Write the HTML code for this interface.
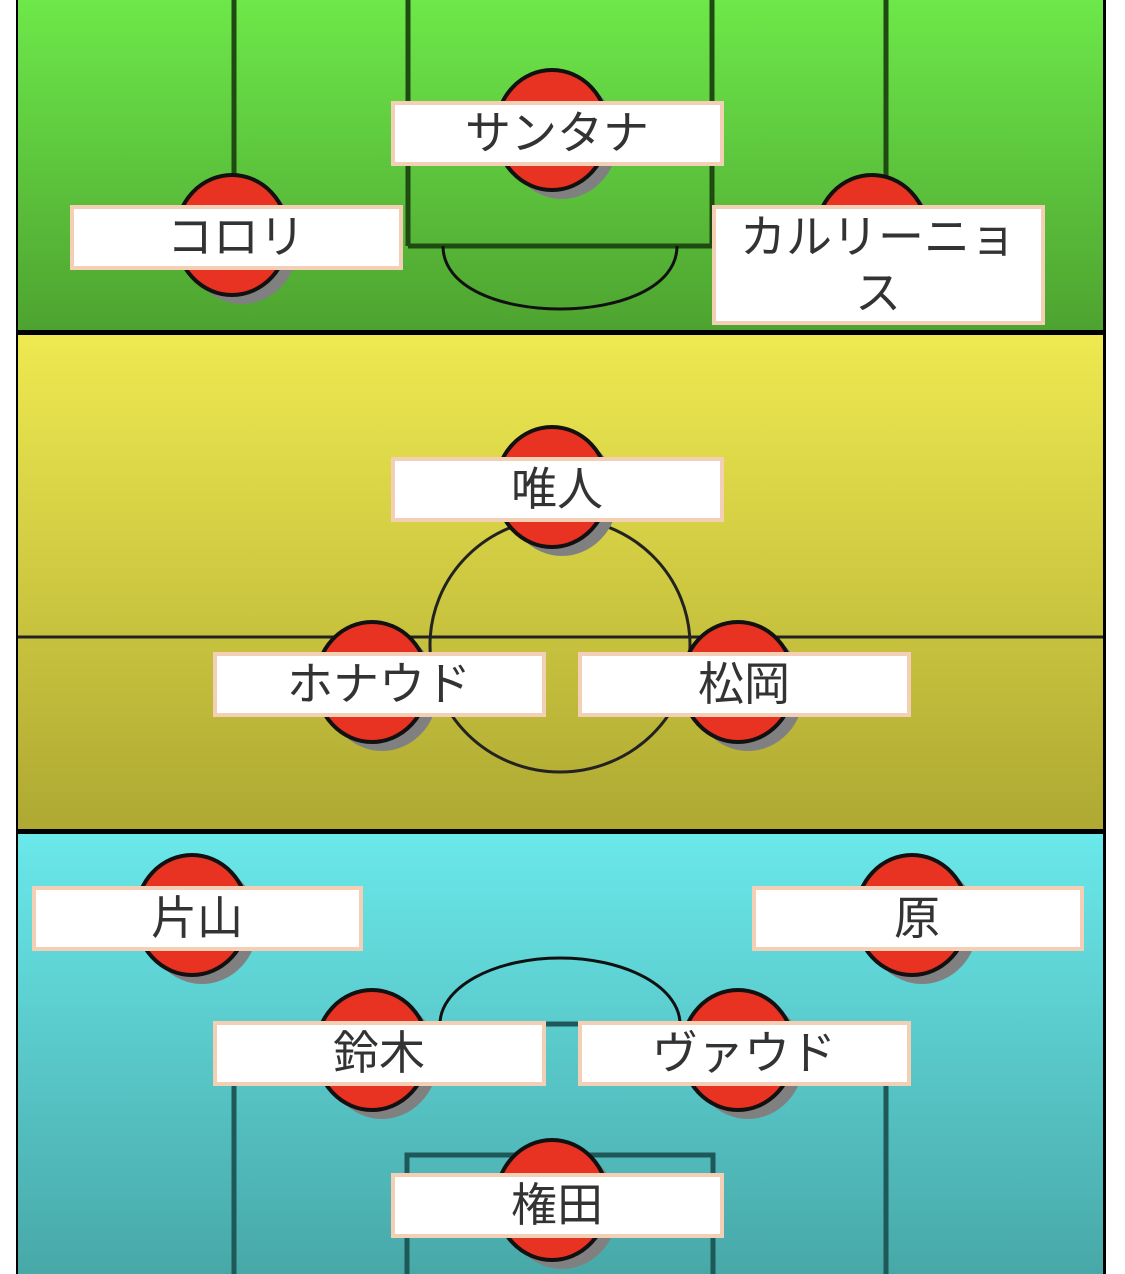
<!DOCTYPE html>
<html><head><meta charset="utf-8"><style>
html,body{margin:0;padding:0;background:#fff;}
svg{display:block}
text{font-family:"Liberation Sans","Noto Sans CJK JP",sans-serif;font-size:46px;fill:#333;text-anchor:middle}
</style></head><body>
<svg width="1125" height="1274" viewBox="0 0 1125 1274" xmlns="http://www.w3.org/2000/svg">
<defs>
<linearGradient id="g" x1="0" y1="0" x2="0" y2="1"><stop offset="0" stop-color="#6de84a"/><stop offset="1" stop-color="#4ea330"/></linearGradient>
<linearGradient id="y" x1="0" y1="0" x2="0" y2="1"><stop offset="0" stop-color="#eee950"/><stop offset="1" stop-color="#aea932"/></linearGradient>
<linearGradient id="c" x1="0" y1="0" x2="0" y2="1"><stop offset="0" stop-color="#6ae8ea"/><stop offset="1" stop-color="#48a8a8"/></linearGradient>
<g id="p"><ellipse cx="10" cy="9" rx="56" ry="60" fill="#808080"/><ellipse cx="0" cy="0" rx="56" ry="60" fill="#e83222" stroke="#111" stroke-width="4"/></g>
</defs>
<rect x="0" y="0" width="1125" height="1274" fill="#fff"/>
<rect x="16" y="0" width="1090" height="1274" fill="#000"/>
<rect x="18" y="0" width="1085" height="330" fill="url(#g)"/>
<rect x="18" y="335" width="1085" height="494" fill="url(#y)"/>
<rect x="18" y="834" width="1085" height="440" fill="url(#c)"/>
<g stroke="#1f4a12" stroke-width="5" fill="none">
<line x1="234" y1="0" x2="234" y2="180"/>
<line x1="408" y1="0" x2="408" y2="246"/>
<line x1="712" y1="0" x2="712" y2="246"/>
<line x1="886" y1="0" x2="886" y2="180"/>
<line x1="408" y1="246" x2="712" y2="246"/>
</g>
<path d="M443 246 C443 330 677 330 677 246" stroke="#111" stroke-width="3" fill="none"/>
<g stroke="#222" stroke-width="3" fill="none">
<line x1="18" y1="637" x2="1103" y2="637"/>
<ellipse cx="560" cy="645" rx="130" ry="127"/>
</g>
<g stroke="#1e5858" stroke-width="5" fill="none">
<path d="M440 1024 A120 66 0 0 1 680 1024" stroke="#111" stroke-width="3"/>
<line x1="234" y1="1024" x2="886" y2="1024"/>
<line x1="234" y1="1024" x2="234" y2="1274"/>
<line x1="886" y1="1024" x2="886" y2="1274"/>
<polyline points="407,1274 407,1155 713,1155 713,1274"/>
</g>
<use href="#p" x="232" y="235"/>
<use href="#p" x="552" y="130"/>
<use href="#p" x="872" y="235"/>
<use href="#p" x="552" y="487"/>
<use href="#p" x="372" y="682"/>
<use href="#p" x="738" y="682"/>
<use href="#p" x="192" y="915"/>
<use href="#p" x="912" y="915"/>
<use href="#p" x="372" y="1050"/>
<use href="#p" x="738" y="1050"/>
<use href="#p" x="552" y="1200"/>
<g fill="#fff" stroke="#f2cfb5" stroke-width="4">
<rect x="72" y="207" width="329" height="61"/>
<rect x="393" y="103" width="329" height="61"/>
<rect x="714" y="207" width="329" height="116"/>
<rect x="393" y="459" width="329" height="61"/>
<rect x="215" y="654" width="329" height="61"/>
<rect x="580" y="654" width="329" height="61"/>
<rect x="34" y="888" width="327" height="61"/>
<rect x="754" y="888" width="328" height="61"/>
<rect x="215" y="1023" width="329" height="61"/>
<rect x="580" y="1023" width="329" height="61"/>
<rect x="393" y="1175" width="329" height="61"/>
</g>
<text x="236" y="253">コロリ</text>
<text x="557" y="149">サンタナ</text>
<text x="878" y="253">カルリーニョ</text>
<text x="878" y="309">ス</text>
<text x="557" y="505">唯人</text>
<text x="379" y="700">ホナウド</text>
<text x="744" y="700">松岡</text>
<text x="197" y="934">片山</text>
<text x="917" y="934">原</text>
<text x="379" y="1069">鈴木</text>
<text x="744" y="1069">ヴァウド</text>
<text x="557" y="1221">権田</text>
</svg>
</body></html>
